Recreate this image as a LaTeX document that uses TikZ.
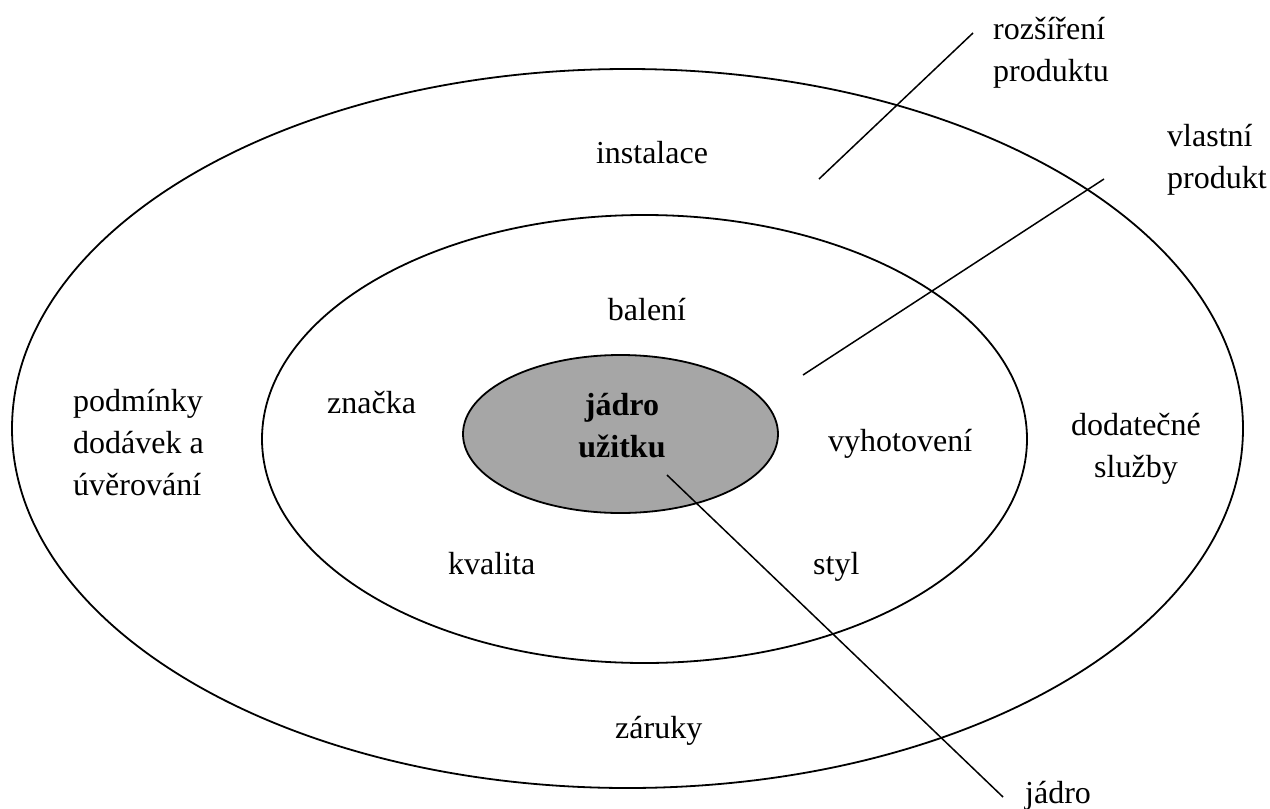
\documentclass[tikz,border=0pt]{standalone}
\usepackage{fontspec}
\setmainfont{Liberation Serif}
\usetikzlibrary{shapes.geometric}
\definecolor{coregray}{RGB}{166,166,166}
\begin{document}
\begin{tikzpicture}[x=1pt,y=-1pt,
  ring/.style={ellipse, draw, line width=1.8pt, inner sep=0pt},
  lbl/.style={font=\fontsize{32}{42}\selectfont, inner sep=0pt},
  leader/.style={line width=1.5pt}]
\useasboundingbox (0,0) rectangle (1270,809);
% rings
\node[ring, minimum width=1231pt, minimum height=719pt] (outer) at (627.5,428.5) {};
\node[ring, minimum width=765pt, minimum height=448pt] (middle) at (644.5,439) {};
\node[ring, fill=coregray, minimum width=315pt, minimum height=158pt] (inner) at (620.5,434) {};
% labels
\node[lbl, anchor=base, align=center, font=\fontsize{32}{42}\selectfont\bfseries] (core) at (622,457) {jádro\\užitku};
\node[lbl, anchor=base] (instalace) at (652,163) {instalace};
\node[lbl, anchor=base] (baleni) at (647,320) {balení};
\node[lbl, anchor=base west] (znacka) at (327,413) {značka};
\node[lbl, anchor=base west] (vyhotoveni) at (828,451) {vyhotovení};
\node[lbl, anchor=base west] (kvalita) at (448,574) {kvalita};
\node[lbl, anchor=base west] (styl) at (813,574) {styl};
\node[lbl, anchor=base west] (zaruky) at (615,738) {záruky};
\node[lbl, anchor=base west, align=left] (podminky) at (73,495) {podmínky\\dodávek a\\úvěrování};
\node[lbl, anchor=base, align=center] (dodatecne) at (1136,477) {dodatečné\\služby};
\node[lbl, anchor=base west, align=left] (rozsireni) at (993,81) {rozšíření\\produktu};
\node[lbl, anchor=base west, align=left] (vlastni) at (1167,188) {vlastní\\produkt};
\node[lbl, anchor=base west] (jadro) at (1025,803) {jádro};
% leader lines
\coordinate (r1) at (819,179);
\coordinate (r2) at (973,33);
\coordinate (v1) at (803,375);
\coordinate (v2) at (1104,179);
\coordinate (j1) at (667,475);
\coordinate (j2) at (1003,797);
\draw[leader] (r1) -- (r2);
\draw[leader] (v1) -- (v2);
\draw[leader] (j1) -- (j2);
\end{tikzpicture}
\end{document}
